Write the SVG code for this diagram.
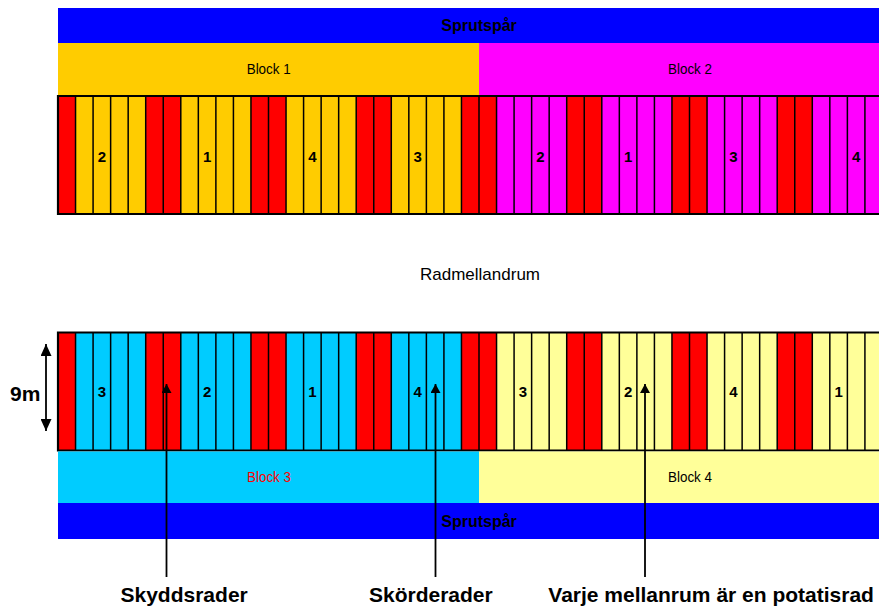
<svg xmlns="http://www.w3.org/2000/svg" xmlns:xlink="http://www.w3.org/1999/xlink" width="879" height="610" viewBox="0 0 879 610">
<style>
.lbl{font-family:"Liberation Sans",Arial,sans-serif;text-anchor:middle}
.blk{font-size:15px}
.num{font-size:15px;font-weight:bold}
.big{font-family:"Liberation Sans",Arial,sans-serif;font-size:21px;font-weight:bold}
.conn{stroke:#000;stroke-width:1.8;fill:none}
</style>
<defs>
<marker id="ah" markerUnits="userSpaceOnUse" markerWidth="9" markerHeight="10" viewBox="0 0 9 10" refX="9" refY="5" orient="auto"><path d="M0,0L9,5L0,10z" fill="#000"/></marker>
<marker id="ah2" markerUnits="userSpaceOnUse" markerWidth="12" markerHeight="11" viewBox="0 0 12 11" refX="12" refY="5.5" orient="auto-start-reverse"><path d="M0,0L12,5.5L0,11z" fill="#000"/></marker>
<clipPath id="clip"><rect x="0" y="0" width="879" height="610"/></clipPath>
<g id="cols">
<g fill="#FF0000">
<rect x="58" y="0" width="17.54" height="118"/>
<rect x="145.71" y="0" width="35.08" height="118"/>
<rect x="250.96" y="0" width="35.08" height="118"/>
<rect x="356.21" y="0" width="35.08" height="118"/>
<rect x="461.46" y="0" width="35.08" height="118"/>
<rect x="566.71" y="0" width="35.08" height="118"/>
<rect x="671.96" y="0" width="35.08" height="118"/>
<rect x="777.21" y="0" width="35.08" height="118"/>
</g>
<path stroke="#000" stroke-width="1.5" fill="none" d="M75.54 0V118M93.08 0V118M110.63 0V118M128.17 0V118M145.71 0V118M163.25 0V118M180.79 0V118M198.33 0V118M215.88 0V118M233.42 0V118M250.96 0V118M268.5 0V118M286.04 0V118M303.58 0V118M321.13 0V118M338.67 0V118M356.21 0V118M373.75 0V118M391.29 0V118M408.83 0V118M426.38 0V118M443.92 0V118M461.46 0V118M479 0V118M496.54 0V118M514.08 0V118M531.63 0V118M549.17 0V118M566.71 0V118M584.25 0V118M601.79 0V118M619.33 0V118M636.88 0V118M654.42 0V118M671.96 0V118M689.5 0V118M707.04 0V118M724.58 0V118M742.13 0V118M759.67 0V118M777.21 0V118M794.75 0V118M812.29 0V118M829.83 0V118M847.38 0V118M864.92 0V118"/>
<path stroke="#000" stroke-width="2.2" fill="none" d="M58 0H879M58 118H879M58 -1V119"/>
</g>
</defs>
<g clip-path="url(#clip)">
<g id="sprut-top">
<rect x="58" y="8" width="821" height="35" fill="#0000FF"/>
<text class="lbl" x="479" y="31" font-size="16" font-weight="bold">Sprutspår</text>
</g>
<g id="block1">
<rect x="58" y="43" width="421" height="52" fill="#FFCC00"/>
<text class="lbl blk" x="268.7" y="73.7" textLength="44" lengthAdjust="spacingAndGlyphs">Block 1</text>
</g>
<g id="block2">
<rect x="479" y="43" width="400" height="52" fill="#FF00FF"/>
<text class="lbl blk" x="690" y="73.7" textLength="44" lengthAdjust="spacingAndGlyphs">Block 2</text>
</g>
<g id="strip-top">
<rect x="58" y="96" width="421" height="118" fill="#FFCC00"/>
<rect x="479" y="96" width="400" height="118" fill="#FF00FF"/>
<use xlink:href="#cols" href="#cols" transform="translate(0,96)"/>
<g class="lbl num">
<text x="101.85" y="161.5">2</text>
<text x="207.1" y="161.5">1</text>
<text x="312.35" y="161.5">4</text>
<text x="417.6" y="161.5">3</text>
<text x="540.4" y="161.5">2</text>
<text x="628.1" y="161.5">1</text>
<text x="733.35" y="161.5">3</text>
<text x="856.15" y="161.5">4</text>
</g>
</g>
<g id="radmellandrum">
<text class="lbl" x="480" y="280" font-size="17">Radmellandrum</text>
</g>
<g id="strip-bottom">
<rect x="58" y="332.5" width="421" height="118" fill="#00CCFF"/>
<rect x="479" y="332.5" width="400" height="118" fill="#FFFF99"/>
<use xlink:href="#cols" href="#cols" transform="translate(0,332.5)"/>
<g class="lbl num">
<text x="101.85" y="397">3</text>
<text x="207.1" y="397">2</text>
<text x="312.35" y="397">1</text>
<text x="417.6" y="397">4</text>
<text x="522.85" y="397">3</text>
<text x="628.1" y="397">2</text>
<text x="733.35" y="397">4</text>
<text x="838.6" y="397">1</text>
</g>
</g>
<g id="block3">
<rect x="58" y="451.5" width="421" height="51.5" fill="#00CCFF"/>
<text class="lbl blk" x="269" y="482" fill="#FF0000" textLength="44" lengthAdjust="spacingAndGlyphs">Block 3</text>
</g>
<g id="block4">
<rect x="479" y="451.5" width="400" height="51.5" fill="#FFFF99"/>
<text class="lbl blk" x="690" y="482" textLength="44" lengthAdjust="spacingAndGlyphs">Block 4</text>
</g>
<g id="sprut-bottom">
<rect x="58" y="503" width="821" height="36" fill="#0000FF"/>
<text class="lbl" x="479" y="526.5" font-size="16" font-weight="bold">Sprutspår</text>
</g>
<g id="dim-9m">
<text class="big" x="10" y="400.5" font-size="20">9m</text>
</g>
<g id="connectors">
<path class="conn" d="M46 344V431" marker-start="url(#ah2)" marker-end="url(#ah2)"/>
<path class="conn" d="M166.5 577V384" marker-end="url(#ah)"/>
<path class="conn" d="M435.5 577V384" marker-end="url(#ah)"/>
<path class="conn" d="M645 577V384" marker-end="url(#ah)"/>
</g>
<g id="labels">
<text class="big" x="120.5" y="602">Skyddsrader</text>
<text class="big" x="369" y="602">Skörderader</text>
<text class="big" x="548.3" y="602">Varje mellanrum är en potatisrad</text>
</g>
</g>
</svg>
